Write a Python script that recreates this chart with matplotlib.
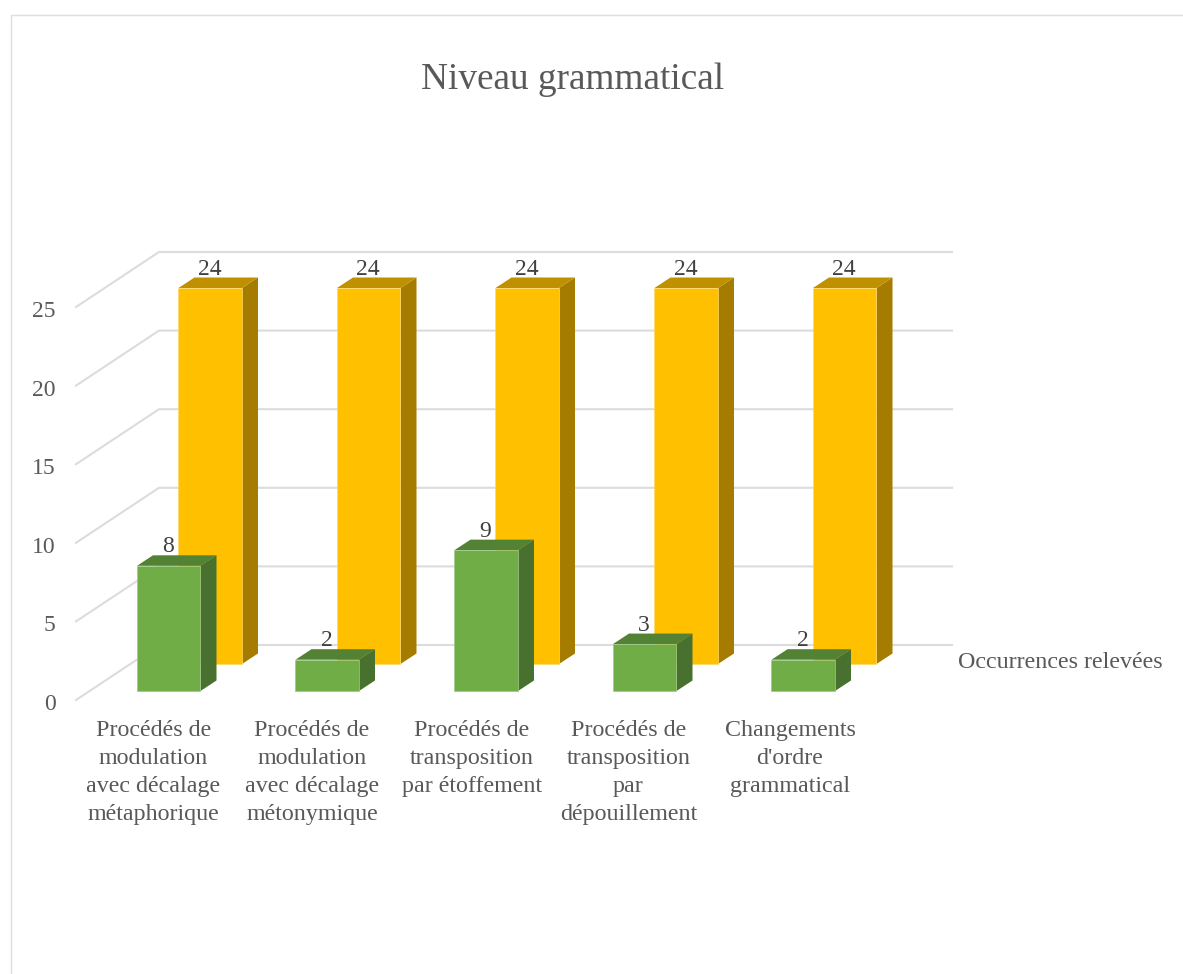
import matplotlib
matplotlib.use("Agg")
import matplotlib.pyplot as plt
from matplotlib.patches import Polygon, Rectangle

categories = ["Procédés de\nmodulation\navec décalage\nmétaphorique",
              "Procédés de\nmodulation\navec décalage\nmétonymique",
              "Procédés de\ntransposition\npar étoffement",
              "Procédés de\ntransposition\npar\ndépouillement",
              "Changements\nd'ordre\ngrammatical"]
front_vals = [8, 2, 9, 3, 2]
back_vals = [24, 24, 24, 24, 24]
y_ticks = [0, 5, 10, 15, 20, 25]
title = "Niveau grammatical"
back_name = "Occurrences relevées"

plt.rcParams['font.family'] = ['Liberation Serif', 'DejaVu Serif']

W, H = 1183, 974
fig = plt.figure(figsize=(W / 100, H / 100), dpi=100)
ax = fig.add_axes([0, 0, 1, 1])
ax.set_xlim(0, W)
ax.set_ylim(H, 0)
ax.axis('off')

# cadre du graphique
ax.plot([11, 11, W], [H, 15, 15], color='#dedede', lw=1.0)

unit = 78.6 / 5  # pixels par unite
y_front0 = 700
y_back0 = 645
dx_wall = 83


def yf(v):
    return y_front0 - v * unit


def yb(v):
    return y_back0 - v * unit


# grille
for t in y_ticks:
    ax.plot([76, 76 + dx_wall, 952], [yf(t), yb(t), yb(t)], color='#dcdcdc', lw=1.5, zorder=1)
    ax.text(55.5, yf(t) + 4.5, str(t), ha='right', va='center', fontsize=17, color='#595959')


def bar3d(x, w, ybase, ytop, dep_x, dep_y, face, side, top, edge, z):
    ax.add_patch(Polygon([(x + w, ytop), (x + w + dep_x, ytop - dep_y),
                          (x + w + dep_x, ybase - dep_y), (x + w, ybase)],
                         fc=side, ec='none', zorder=z))
    ax.add_patch(Polygon([(x, ytop), (x + dep_x, ytop - dep_y),
                          (x + w + dep_x, ytop - dep_y), (x + w, ytop)],
                         fc=top, ec='none', zorder=z))
    ax.add_patch(Rectangle((x, ytop), w, ybase - ytop, fc=face, ec=edge, lw=0.5, zorder=z))


x_back = [178.5, 337, 495.5, 654.5, 813]
x_front = [137, 295.5, 454.5, 613, 771.5]
x_labels = [153.5, 312, 472, 628.5, 790]
bw = 63.5

for i in range(5):
    bar3d(x_back[i], bw, 664, 288 + (24 - back_vals[i]) * unit, 16, 10.5,
          '#ffc000', '#a67c00', '#bf9000', '#ffd966', 3)
    ax.text(x_back[i] + 31, 269.5, str(back_vals[i]), ha='center', va='center',
            fontsize=17, color='#404040', zorder=6)

for i in range(5):
    top = 691 - front_vals[i] * 15.65
    bar3d(x_front[i], bw, 691, top, 16, 10.5, '#70ad47', '#48702e', '#548235', '#a0c98a', 4)
    ax.text(x_front[i] + 31, top - 19, str(front_vals[i]), ha='center', va='center',
            fontsize=17, color='#404040', zorder=6)

# etiquettes de categories
for i in range(5):
    ax.text(x_labels[i], 720, categories[i], ha='center', va='top', fontsize=17.3,
            color='#595959', linespacing=1.44)

ax.text(958, 662, back_name, ha='left', va='center', fontsize=17.3, color='#595959')
ax.text(572.5, 80, title, ha='center', va='center', fontsize=26.8, color='#595959')

fig.savefig("out.png", dpi=100)
